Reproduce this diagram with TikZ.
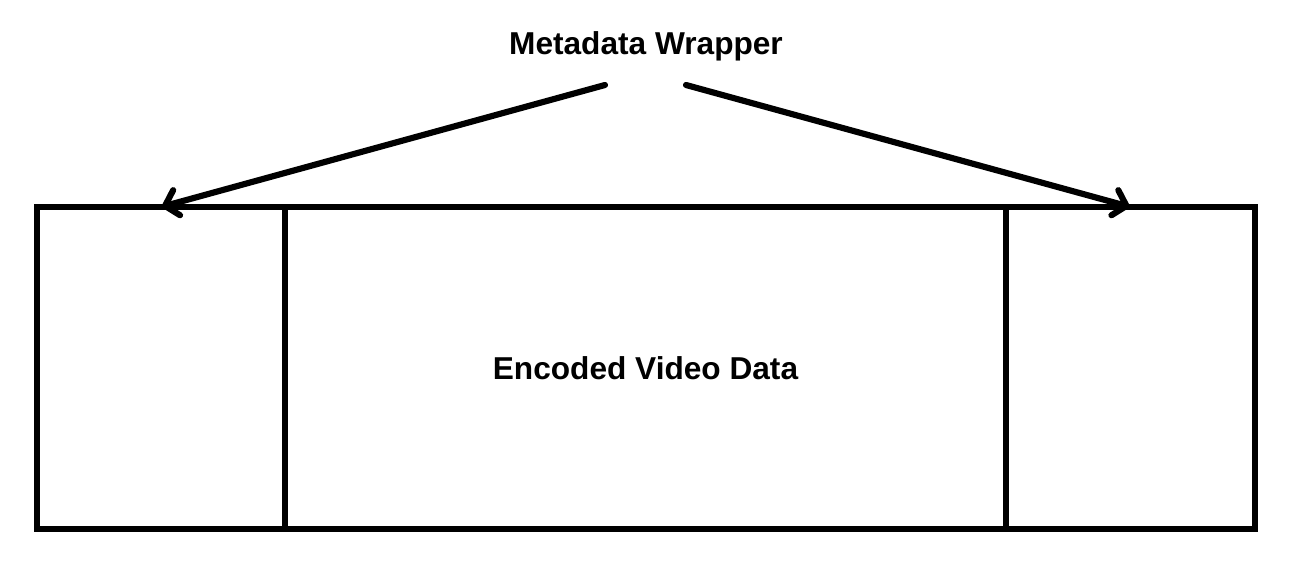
\documentclass[tikz,border=0pt]{standalone}
\usepackage{fontspec}
\setmainfont{Liberation Sans}
\usepackage{tikz}
\usetikzlibrary{positioning,arrows.meta}

\begin{document}
\begin{tikzpicture}[
        box/.style={draw=black, line width=1.75pt, inner sep=0pt, outer sep=0pt,
            minimum height=3.22cm},
        label/.style={font=\bfseries\fontsize{9}{11}\selectfont},
        arrow/.style={-{Straight Barb[length=1.2mm,width=2.6mm,line cap=round]}, line width=1.75pt, line cap=round}
    ]
    \useasboundingbox (0,0) rectangle (12.92,-5.69);
    \node[box, minimum width=2.48cm] (hdr) at (1.61,-3.68) {};
    \node[box, minimum width=7.21cm, right=0cm of hdr, label] (video) {Encoded Video Data};
    \node[box, minimum width=2.49cm, right=0cm of video] (trl) {};
    \node[label] (meta) at (6.46,-0.46) {Metadata Wrapper};
    \coordinate (ml) at (6.05,-0.85);
    \coordinate (mr) at (6.86,-0.85);
    \draw[arrow] (ml) -- (hdr.north);
    \draw[arrow] (mr) -- (trl.north);
\end{tikzpicture}
\end{document}
